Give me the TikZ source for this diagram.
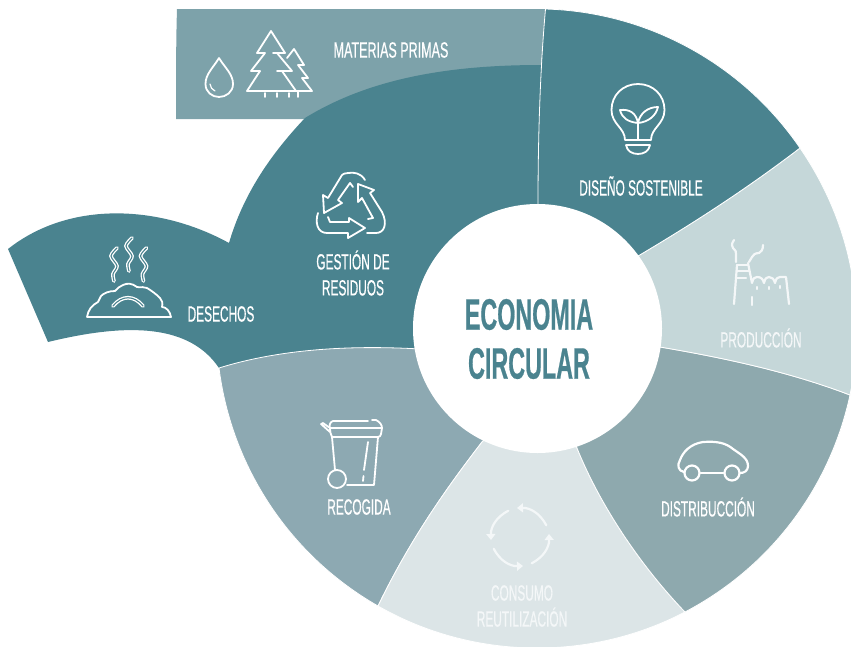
\documentclass[tikz,border=0pt]{standalone}
\usepackage{fontspec}
\usetikzlibrary{arrows.meta}
\newfontfamily\labelfont[FakeStretch=0.54,FakeBold=0.5]{Liberation Sans}
\newfontfamily\widelabelfont[FakeStretch=0.57,FakeBold=0.5]{Liberation Sans}
\newfontfamily\hubfont[FakeStretch=0.53,FakeBold=0.5]{Liberation Sans Bold}
\definecolor{tealdark}{HTML}{4A838F}
\definecolor{tealmat}{HTML}{7DA2AA}
\definecolor{tealprod}{HTML}{C5D7D9}
\definecolor{tealdist}{HTML}{8EA9AE}
\definecolor{tealreco}{HTML}{8DA9B2}
\definecolor{tealcons}{HTML}{DCE5E7}
\definecolor{softwhite}{HTML}{F4F7F8}
\tikzset{
  wedge/.style={draw=white,line width=0.8pt,line join=round},
  icon/.style={draw=white,line width=1.8pt,line cap=round,line join=round},
  softicon/.style={draw=softwhite,line width=2.2pt,line cap=round,line join=round},
  doubleicon/.style={draw=white,line width=1.3pt,double=tealdark,double distance=1.1pt,line cap=round},
  lbl/.style={text=white,align=center,inner sep=0pt,font=\labelfont\fontsize{22}{26}\selectfont},
  softlbl/.style={lbl,text=softwhite},
  hub/.style={circle,fill=white,minimum size=249pt,inner sep=0pt},
  hubtext/.style={text=tealdark,align=center,inner sep=0pt,font=\hubfont\fontsize{44}{49}\selectfont},
  rim/.style={bend left=#1,looseness=0.9},
  rimback/.style={bend right=#1,looseness=0.9}
}
\newcommand{\steam}[2]{%
  \draw[doubleicon] plot[smooth] coordinates {(#1+3,#2) (#1-3,#2+8) (#1+3,#2+18) (#1-1,#2+26) (#1,#2+33)};}
\begin{document}
\begin{tikzpicture}[x=1pt,y=-1pt]
\useasboundingbox (0,0) rectangle (851,646);
% materias primas band
\fill[tealmat] (177,9) -- (545.5,9) -- (541,66) .. controls (450,66) and (370,80) .. (305,119) -- (176,119) .. controls (176,80) and (176,40) .. (177,9) -- cycle;
% gestion + desechos
\fill[tealdark] (541,65) .. controls (450,65) and (370,78) .. (305,118) .. controls (270,155) and (243,195) .. (229,243)
  .. controls (160,205) and (70,200) .. (8,249) -- (48,342)
  .. controls (130,322) and (190,325) .. (219,368) -- (420,420) -- (540,330) -- cycle;
% recogida
\path[wedge,fill=tealreco] (219,368) .. controls (280,349) and (350,345) .. (420,349) -- (520,400) -- (482,442)
  .. controls (445,490) and (410,540) .. (378,606) to[rim=26.5] (219,368) -- cycle;
% consumo
\path[wedge,fill=tealcons] (482,442) -- (530,400) -- (577,448) .. controls (600,505) and (640,565) .. (685,612)
  to[rim=28.7] (378,606) .. controls (410,540) and (445,490) .. (482,442) -- cycle;
% distribucion
\path[wedge,fill=tealdist] (660,347) -- (540,340) -- (577,448) .. controls (600,505) and (640,565) .. (685,612)
  to[rimback=25] (850,395) .. controls (790,372) and (725,358) .. (660,347) -- cycle;
% produccion
\path[wedge,fill=tealprod] (638,256) .. controls (692,224) and (745,190) .. (800,148) to[rim=23] (850,395)
  .. controls (790,372) and (725,358) .. (660,347) -- (560,320) -- cycle;
% diseno
\path[wedge,fill=tealdark] (545.5,9) to[rim=27] (800,148) .. controls (745,190) and (692,224) .. (638,256) -- (560,320) -- (537,320) -- (538,205) .. controls (538,140) and (540,70) .. (545.5,9) -- cycle;
% hub
\node[hub] (hubcircle) at (537.5,328.5) {};
\node[hubtext] (hublabel) at (529,339) {ECONOMIA\\CIRCULAR};
% labels
\node[lbl,font=\widelabelfont\fontsize{22}{26}\selectfont] (materias) at (391,50) {MATERIAS PRIMAS};
\node[lbl] (diseno) at (641,186) {DISEÑO SOSTENIBLE};
\node[lbl] (gestion) at (353,273) {GESTIÓN DE\\RESIDUOS};
\node[lbl] (desechos) at (221,314) {DESECHOS};
\node[softlbl] (produccion) at (761,338) {PRODUCCIÓN};
\node[lbl] (recogida) at (359,507) {RECOGIDA};
\node[lbl] (distribucion) at (708,507) {DISTRIBUCCIÓN};
\node[softlbl] (consumo) at (522,606) {CONSUMO\\REUTILIZACIÓN};
% drop
\draw[icon] (219,58) .. controls (213,68) and (205.5,74) .. (205.5,84) .. controls (205.5,92) and (212,97) .. (219,97) .. controls (226,97) and (233,92) .. (233,84) .. controls (233,74) and (225,68) .. (219,58);
\draw[icon,line width=1.2pt] (210,84) .. controls (210.5,87) and (212,90) .. (215,91);
% trees
\draw[icon] (273,53) -- (285,53) -- (271,31) -- (257,53) -- (265,53) -- (251,71) -- (260,71) -- (247,91) -- (296,91) -- (282,71) -- (292,71) -- (277,53);
\draw[icon] (277,71) -- (282,71);
\draw[icon] (287,58) -- (294,49) -- (304,65) -- (298,65) -- (308,78) -- (302,78) -- (312,91) -- (296,91);
\draw[icon] (265,93) -- (265,97) (277,93) -- (277,97) (289,93) -- (289,97) (298,91) -- (298,97);
% recycle
\draw[icon] (318,213) .. controls (315,222) and (317,233) .. (327,233) -- (348,233) -- (348,238) -- (365,228) -- (349,218) -- (349,222) -- (330,222) -- (328,217);
\draw[icon] (367,233) -- (376,233) .. controls (384,233) and (388,224) .. (382,212) -- (370,193) -- (374,190) -- (358,184) -- (358,202) -- (362,198) -- (373,218) -- (368,219);
\draw[icon] (365,180) .. controls (361,173) and (354,172) .. (348,173) .. controls (345,173) and (343,174) .. (342,175) -- (328,198) -- (323,195) -- (324,213) -- (342,203) -- (338,200) -- (350,183) -- (353,187);
% bulb
\draw[icon] (625,140) .. controls (625,128) and (611.5,124) .. (611.5,110) .. controls (611.5,95) and (623,84) .. (638,84) .. controls (653,84) and (664.5,95) .. (664.5,110) .. controls (664.5,124) and (651,128) .. (651,140) -- cycle;
\draw[icon] (626,145) -- (650,145) (626,145) .. controls (627,151) and (632,154) .. (638,154) .. controls (644,154) and (649,151) .. (650,145);
\draw[icon] (638,140) -- (638,120);
\draw[icon] (638,123) .. controls (636,113) and (630,109) .. (620,110) .. controls (622,118) and (628,122) .. (638,123);
\draw[icon] (638,123) .. controls (640,113) and (648,107) .. (658,107) .. controls (656,116) and (648,122) .. (638,123);
% factory
\draw[softicon] (737,265) -- (734,304) (748,263) -- (752,283)
  .. controls (753,278) and (755,277) .. (757,277) .. controls (761,277) and (763,279) .. (764,283)
  .. controls (765,278) and (767,277) .. (769,277) .. controls (772,277) and (774,279) .. (775,283)
  .. controls (776,278) and (778,277) .. (780,277) -- (786,277) -- (789,304);
\draw[softicon] (737,265) -- (748,265) (737,271) -- (749,271) (737,278) -- (746,278);
\draw[softicon] (752,297) -- (752,305) (757,287) -- (757,289) (769,287) -- (769,289) (780,286) -- (780,288);
\draw[softicon] (734,240) .. controls (731,244) and (732,247) .. (733,248) .. controls (735,250) and (737,252) .. (736,254) -- (736,262);
\draw[softicon] (763,245) .. controls (763,250) and (761,252) .. (759,253) .. controls (755,253) and (753,255) .. (752,257) -- (749,262);
% car
\node[draw=white,line width=2.2pt,circle,minimum size=15pt,inner sep=0pt] (wheelA) at (692,473) {};
\node[draw=white,line width=2.2pt,circle,minimum size=15pt,inner sep=0pt] (wheelB) at (732,473) {};
\draw[icon,line width=2.2pt] (wheelA) -- (wheelB);
\draw[icon,line width=2.2pt] (684,472) .. controls (678,471) and (677,465) .. (680,460) .. controls (683,452) and (690,444) .. (703,442) .. controls (717,441) and (726,443) .. (733,449) .. controls (740,454) and (748,458) .. (748,466) .. controls (748,471) and (744,473) .. (740,473);
% bin
\draw[icon] (333,421) -- (368,421) (372,420) -- (376,420) .. controls (380,422) and (382,425) .. (382,428) -- (330,428) .. controls (329,425) and (330,422) .. (333,421);
\draw[icon] (382,428) -- (381,434) .. controls (381,436) and (379,437) .. (378,437) -- (332,437) .. controls (331,435) and (330,432) .. (330,428);
\draw[icon] (321,424) -- (323,423) -- (330,428) (321,424) -- (330,432);
\draw[icon] (332,437) -- (335,470);
\draw[icon] (378,437) -- (374,485) -- (347,485);
\draw[icon] (337,479) circle[radius=9];
\draw[icon] (368,442) -- (364,470) (363.5,476) -- (363,481);
% circular arrows
\foreach \r in {0,90,180,270}{
  \begin{scope}[shift={(520,537)},rotate=\r]
    \draw[softicon,-{Triangle[width=9pt,length=6pt]}] (11.7,26.3) to[bend right=32] (29,-3);
  \end{scope}}
% waste
\draw[icon] (87,317) -- (171,317) .. controls (170,311) and (166,307) .. (162,307) .. controls (163,303) and (162,300) .. (160,298) .. controls (156,294) and (152,291) .. (147,288) .. controls (144,286) and (141,288) .. (137,287) .. controls (132,283) and (127,283) .. (123,285) .. controls (120,286) and (118,288) .. (115,291) .. controls (109,291) and (104,293) .. (101,296) -- (98,302) .. controls (92,305) and (88,310) .. (87,317);
\draw[doubleicon] (113,306) .. controls (122,295) and (134,295) .. (143,306);
\steam{114}{248}
\steam{129}{238}
\steam{143.5}{248}
\end{tikzpicture}
\end{document}
